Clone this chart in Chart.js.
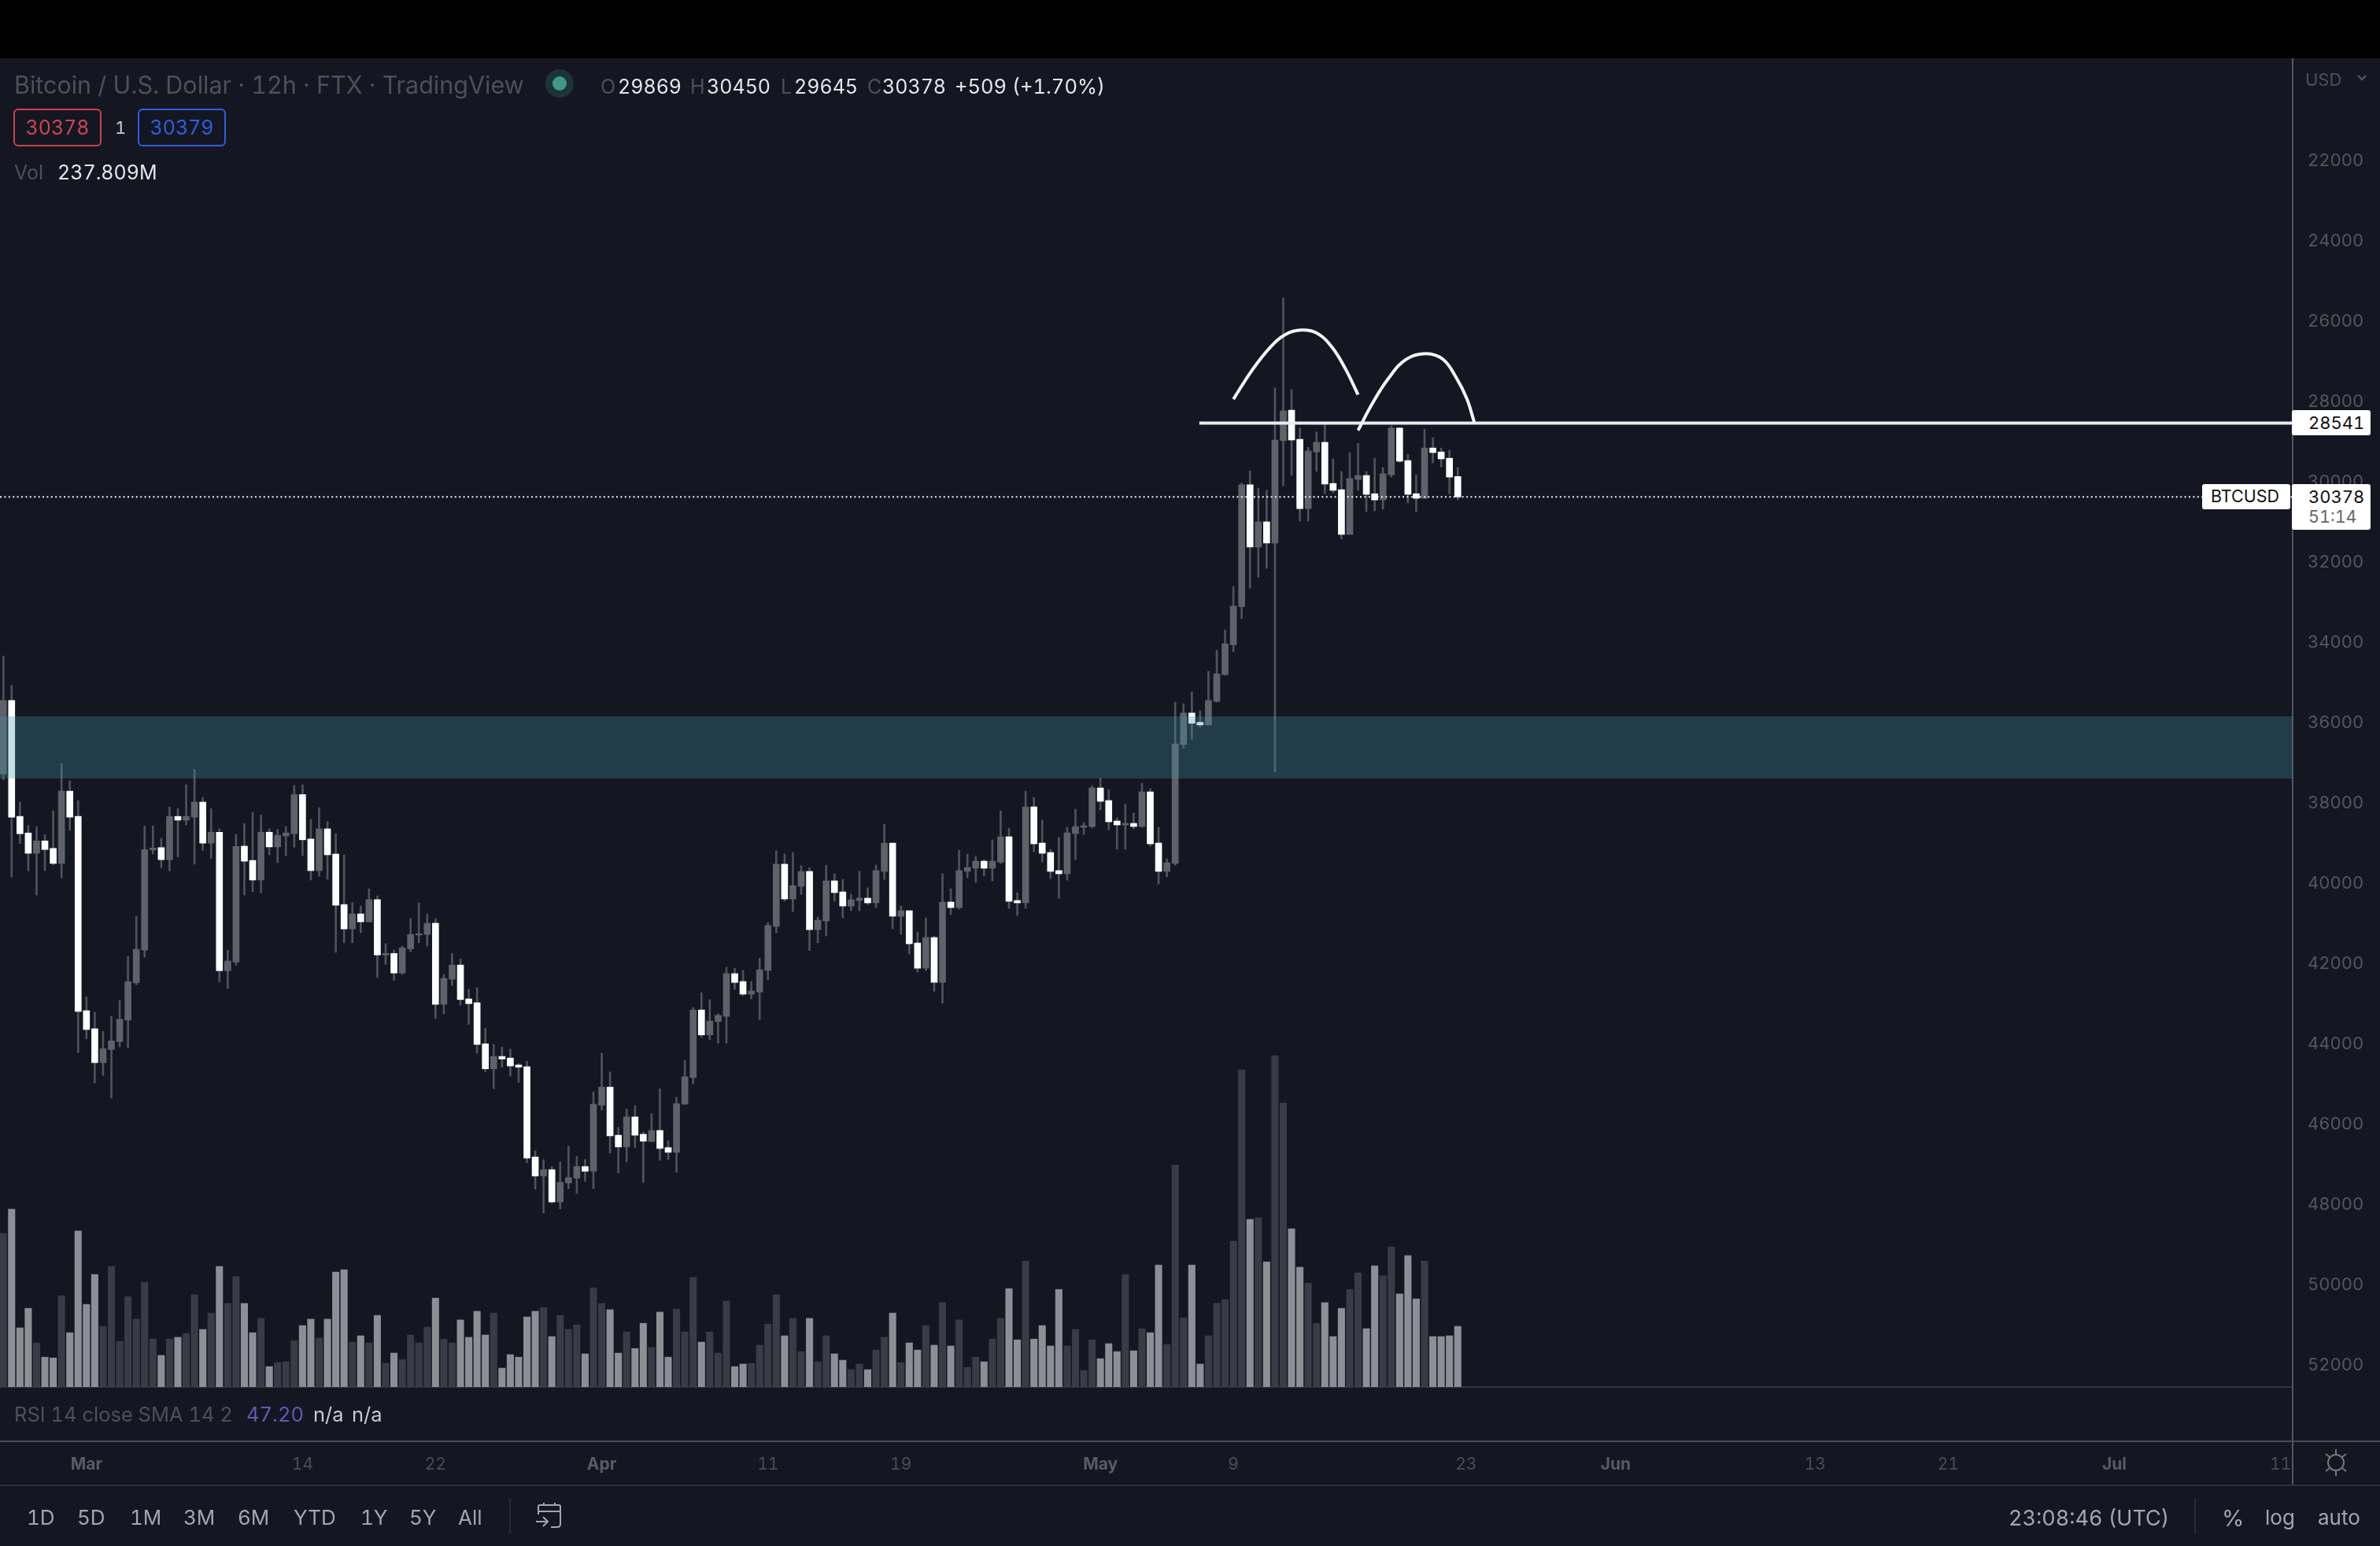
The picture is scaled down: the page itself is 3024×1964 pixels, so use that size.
<!DOCTYPE html>
<html>
<head>
<meta charset="utf-8">
<title>BTCUSD</title>
<script src="https://cdn.jsdelivr.net/npm/chart.js@4/dist/chart.umd.js"></script>
<style>
  html, body { margin: 0; padding: 0; background: #141722; overflow: hidden; }
  #page { position: relative; width: 3024px; height: 1964px; font-family: Inter, sans-serif; font-feature-settings: "tnum"; }
  #chart { position: absolute; left: 0; top: 0; }
  .t { position: absolute; white-space: nowrap; line-height: 1; transform: translateY(-50%); }
  .bar { position: absolute; }
  .dim { color: #4f5056; }
  .tool { color: #a4a5ad; font-size: 26px; }
  .tag { position: absolute; background: #fff; border-radius: 3px; }
  .box { position: absolute; top: 138px; height: 44px; width: 108px; border-radius: 6px; border: 2px solid; text-align: center; font-size: 25px; line-height: 44px; }
</style>
</head>
<body>
<div id="page">
  <canvas id="chart" width="3024" height="1964"></canvas>

  <!-- cabecalho -->
  <div class="bar" style="left:0;top:0;width:3024px;height:74px;background:#000"></div>
  <span class="t dim" style="left:18px;top:108px;font-size:30.5px">Bitcoin / U.S. Dollar · 12h · FTX · TradingView</span>
  <div class="bar" style="left:693px;top:88px;width:36px;height:36px;border-radius:50%;background:#1c3338"></div>
  <div class="bar" style="left:702px;top:97px;width:18px;height:18px;border-radius:50%;background:#3f9a84"></div>
  <span class="t dim" style="left:763px;top:110px;font-size:25px">O</span>
  <span class="t" style="left:785px;top:110px;font-size:25px;color:#e6e6e8">29869</span>
  <span class="t dim" style="left:877px;top:110px;font-size:25px">H</span>
  <span class="t" style="left:898px;top:110px;font-size:25px;color:#e6e6e8">30450</span>
  <span class="t dim" style="left:992px;top:110px;font-size:25px">L</span>
  <span class="t" style="left:1009px;top:110px;font-size:25px;color:#e6e6e8">29645</span>
  <span class="t dim" style="left:1102px;top:110px;font-size:25px">C</span>
  <span class="t" style="left:1121px;top:110px;font-size:25px;color:#e6e6e8">30378</span>
  <span class="t" style="left:1213px;top:110px;font-size:25.5px;color:#e6e6e8">+509 (+1.70%)</span>
  <div class="box" style="left:17px;color:#cf4452;border-color:#c8434f">30378</div>
  <span class="t" style="left:146px;top:162px;font-size:22px;color:#c9c9cc">1</span>
  <div class="box" style="left:175px;color:#2f5fe0;border-color:#2f5fe0">30379</div>
  <span class="t dim" style="left:18px;top:219px;font-size:25px">Vol</span>
  <span class="t" style="left:73px;top:219px;font-size:25px;color:#e6e6e8">237.809M</span>

  <span class="t dim" style="left:2929px;top:101px;font-size:22px">USD</span>
  <svg class="bar" style="left:2994px;top:94px" width="14" height="9" viewBox="0 0 14 9"><path d="M2 2 L7 7 L12 2" fill="none" stroke="#55565c" stroke-width="2.4"/></svg>

  <!-- etiquetas do eixo de preco -->
  <div class="tag" style="left:2912px;top:521px;width:100px;height:32px"></div>
  <span class="t" style="left:2933px;top:537px;font-size:22px;color:#111">28541</span>
  <div class="tag" style="left:2798px;top:615px;width:112px;height:32px"></div>
  <span class="t" style="left:2809px;top:631px;font-size:21.5px;color:#111">BTCUSD</span>
  <div class="tag" style="left:2912px;top:615px;width:100px;height:58px"></div>
  <span class="t" style="left:2933px;top:631px;font-size:22px;color:#111">30378</span>
  <span class="t" style="left:2933px;top:657px;font-size:21.5px;color:#666">51:14</span>

  <!-- linhas do painel -->
  <div class="bar" style="left:2912px;top:1762px;width:2px;height:125px;background:#55565c"></div>
  <div class="bar" style="left:0;top:1830px;width:3024px;height:2px;background:#4b4c53"></div>
  <div class="bar" style="left:0;top:1886px;width:3024px;height:2px;background:#2f3038"></div>

  <span class="t dim" style="left:18px;top:1797px;font-size:25.5px">RSI 14 close SMA 14 2</span>
  <span class="t" style="left:313px;top:1797px;font-size:25.5px;color:#6a55b5">47.20</span>
  <span class="t" style="left:398px;top:1797px;font-size:25.5px;color:#c9c9cc">n/a</span>
  <span class="t" style="left:447px;top:1797px;font-size:25.5px;color:#c9c9cc">n/a</span>

  <svg class="bar" style="left:2950px;top:1840px" width="36" height="36" viewBox="0 0 36 36">
    <g fill="none" stroke="#75767d" stroke-width="2"><circle cx="18" cy="18" r="10"/><path d="M18 1V7M18 29V35M5 7L10 11M31 7L26 11M5 29L10 25M31 29L26 25"/></g>
  </svg>

  <!-- barra inferior -->
  <span class="t tool" style="left:34px;top:1928px">1D</span>
  <span class="t tool" style="left:98px;top:1928px">5D</span>
  <span class="t tool" style="left:165px;top:1928px">1M</span>
  <span class="t tool" style="left:233px;top:1928px">3M</span>
  <span class="t tool" style="left:302px;top:1928px">6M</span>
  <span class="t tool" style="left:373px;top:1928px">YTD</span>
  <span class="t tool" style="left:458px;top:1928px">1Y</span>
  <span class="t tool" style="left:520px;top:1928px">5Y</span>
  <span class="t tool" style="left:582px;top:1928px">All</span>
  <div class="bar" style="left:647px;top:1904px;width:2px;height:44px;background:#2a2c33"></div>
  <svg class="bar" style="left:680px;top:1908px" width="36" height="34" viewBox="0 0 36 34">
    <g fill="none" stroke="#a4a5ad" stroke-width="2"><path d="M4 16V6Q4 4 6 4H30Q32 4 32 6V28Q32 32 28 32H20M4 12H32M11 1V5M25 1V5M1 25H15M10 19L16 25L10 31"/></g>
  </svg>
  <span class="t tool" style="left:2552px;top:1928px;font-size:27px">23:08:46 (UTC)</span>
  <div class="bar" style="left:2788px;top:1904px;width:2px;height:44px;background:#2a2c33"></div>
  <span class="t tool" style="left:2823px;top:1928px;font-size:29px">%</span>
  <span class="t tool" style="left:2878px;top:1928px">log</span>
  <span class="t tool" style="left:2945px;top:1928px">auto</span>
</div>

<script>
// Dados (12h, BTCUSD, eixo invertido)
const candleOpen = [
  37276, 35447, 38336, 38749, 39255, 38946, 39133, 39508, 37708, 38336,
  43176, 43626, 44470, 44142, 43945, 43410, 42482, 41666, 39171, 39114,
  39414, 38336, 38430, 38355, 37980, 39002, 38730, 42181, 41966, 39077,
  39433, 39921, 38730, 39096, 38824, 38768, 37792, 38899, 39687, 38646,
  39274, 40531, 41140, 40765, 40962, 40409, 41788, 41750, 42238, 41637,
  41291, 41275, 40999, 43016, 42394, 42039, 42882, 42977, 44001, 44623,
  44316, 44355, 44528, 44568, 46821, 47294, 47136, 47940, 47467, 47349,
  47057, 47176, 45529, 45080, 46277, 46569, 45821, 46254, 46435, 46159,
  46585, 46703, 45506, 44844, 43158, 43780, 43449, 43315, 42252, 42449,
  42764, 42709, 42173, 41078, 39526, 40393, 40078, 39706, 41157, 40941,
  39941, 40216, 40569, 40431, 40373, 40490, 39706, 39000, 40823, 40686,
  41490, 42118, 41353, 42470, 40470, 40608, 39706, 39627, 39451, 39627,
  39477, 38843, 40431, 40490, 38098, 39000, 39235, 39686, 39765, 38765,
  38608, 38588, 37627, 37941, 38451, 38549, 38510, 38588, 37725, 39000,
  39706, 39510, 36545, 35761, 35992, 36058, 35472, 34804, 34061, 33112,
  30075, 31626, 30999, 31527, 28977, 28218, 28944, 30669, 29258, 29018,
  30042, 30198, 31313, 29943, 29844, 30298, 30454, 29827, 28663, 29472,
  30298, 30413, 29159, 29258, 29414, 29869
];
const candleClose = [
  35447, 38355, 38768, 39255, 38946, 39161, 39508, 37708, 38355, 43194,
  43645, 44470, 44123, 43926, 43392, 42454, 41647, 39161, 39124, 39414,
  38336, 38430, 38336, 37980, 39002, 38730, 42181, 41938, 39086, 39452,
  39921, 38730, 39096, 38805, 38749, 37792, 38918, 39687, 38646, 39293,
  40549, 41140, 40765, 40962, 40409, 41788, 41750, 42238, 41609, 41275,
  41259, 40999, 43016, 42370, 42039, 42898, 43000, 44017, 44623, 44316,
  44379, 44552, 44584, 46845, 47294, 47136, 47940, 47451, 47333, 47057,
  47176, 45506, 45080, 46293, 46569, 45821, 46277, 46427, 46159, 46608,
  46703, 45490, 44820, 43158, 43780, 43434, 43292, 42252, 42473, 42764,
  42685, 42157, 41054, 39526, 40393, 40062, 39707, 41157, 40922, 39941,
  40235, 40569, 40412, 40373, 40490, 39686, 39000, 40823, 40686, 41510,
  42118, 41353, 42470, 40470, 40608, 39686, 39608, 39451, 39627, 39451,
  38843, 40451, 40490, 38098, 39020, 39255, 39706, 39765, 38745, 38588,
  38569, 37627, 37961, 38471, 38549, 38510, 38588, 37725, 39020, 39706,
  39490, 36529, 35761, 36017, 36058, 35447, 34787, 34036, 33095, 30075,
  31626, 30999, 31527, 28961, 28234, 28961, 30669, 29233, 29018, 30058,
  30215, 31313, 29918, 29844, 30314, 30454, 29802, 28663, 29489, 30314,
  30413, 29159, 29274, 29431, 29885, 30378
];
const candleHigh = [
  37426, 39846, 39011, 39696, 40296, 39687, 39546, 39865, 38683, 44217,
  43879, 44976, 44789, 45351, 44076, 44095, 42528, 41844, 39274, 39612,
  39696, 39349, 38552, 39527, 39180, 39377, 42454, 42622, 42041, 40296,
  40212, 40240, 39293, 39490, 39312, 39105, 39312, 39921, 39827, 39902,
  41722, 41488, 41488, 41234, 40962, 42350, 42022, 42416, 42275, 41708,
  41488, 41567, 43371, 43252, 42551, 43040, 43512, 44237, 44694, 45119,
  44584, 44804, 44962, 46963, 47625, 48216, 47979, 48113, 47609, 47727,
  47428, 47609, 45647, 46726, 47215, 46939, 46585, 47451, 46435, 46900,
  46884, 47199, 45506, 45001, 43843, 43898, 43985, 43985, 42646, 42803,
  42882, 43402, 42409, 41236, 40448, 40708, 40274, 41680, 41484, 41314,
  40451, 40863, 40686, 40686, 40529, 40608, 39908, 41137, 41268, 41765,
  42216, 42176, 42693, 42987, 40784, 40647, 39863, 39980, 39823, 39941,
  39510, 40627, 40804, 40627, 39216, 39471, 39882, 40373, 39922, 39412,
  38784, 38627, 38176, 38667, 39157, 39157, 38647, 38608, 39078, 40020,
  39843, 39549, 36636, 36413, 36116, 36058, 35489, 34820, 34234, 33409,
  32650, 32377, 32154, 37230, 30100, 29844, 30982, 30982, 29745, 30298,
  30273, 31428, 31313, 30215, 30743, 30727, 30685, 29885, 29514, 30529,
  30743, 30413, 29530, 29629, 30298, 30450
];
const candleLow = [
  34341, 35072, 37980, 38561, 38589, 38796, 38195, 37014, 37454, 37942,
  42828, 43213, 43691, 43316, 42922, 41825, 40822, 38571, 38571, 38880,
  38102, 38139, 37548, 37164, 37867, 38139, 38646, 41666, 38786, 38514,
  38233, 38299, 38646, 38664, 38589, 37567, 37548, 38411, 38120, 38467,
  38768, 39293, 40484, 40568, 40137, 40315, 41506, 41666, 41562, 40881,
  40487, 40763, 40881, 42275, 41748, 41882, 42646, 42606, 43607, 44017,
  44080, 44135, 44489, 44434, 46664, 46884, 47057, 46939, 46545, 46805,
  46884, 45198, 44237, 44702, 46081, 45624, 45545, 46199, 45742, 45119,
  46411, 45332, 44410, 43095, 42725, 42900, 43252, 42094, 42118, 42173,
  42449, 41866, 40983, 39195, 39274, 39235, 39565, 39608, 40843, 39549,
  39765, 39902, 40274, 39700, 40118, 39549, 38529, 39000, 40568, 40673,
  41216, 40863, 41320, 39765, 40137, 39176, 39274, 39333, 39412, 38922,
  38196, 38627, 40235, 37706, 37863, 38431, 39157, 38863, 38608, 38157,
  38490, 37569, 37386, 37667, 38373, 38039, 38255, 37510, 37647, 38608,
  39392, 35489, 35530, 35233, 35703, 34721, 34193, 33689, 32608, 30033,
  29728, 30157, 30207, 27665, 25420, 27706, 28663, 29142, 28763, 28548,
  29431, 29745, 29274, 29043, 29745, 29414, 29646, 28606, 28647, 29315,
  29827, 28688, 28903, 29159, 29217, 29645
];
// volume em milhoes
const volumes = [
  603, 698, 232, 309, 173, 117, 114, 358, 213, 612,
  324, 442, 238, 473, 179, 355, 266, 411, 188, 124,
  188, 195, 210, 362, 226, 290, 473, 328, 433, 328,
  213, 269, 80, 96, 99, 182, 241, 266, 192, 266,
  451, 460, 176, 201, 173, 281, 93, 133, 108, 204,
  173, 235, 349, 188, 173, 263, 195, 297, 204, 290,
  74, 127, 117, 275, 297, 312, 198, 281, 226, 244,
  130, 389, 328, 303, 133, 216, 151, 250, 155, 294,
  117, 306, 216, 430, 176, 216, 133, 337, 80, 90,
  93, 164, 247, 362, 201, 269, 139, 269, 99, 201,
  130, 105, 68, 90, 68, 145, 195, 290, 96, 173,
  145, 241, 164, 331, 161, 263, 77, 117, 99, 188,
  269, 386, 185, 494, 188, 241, 161, 383, 161, 226,
  65, 185, 111, 170, 139, 442, 142, 229, 213, 479,
  167, 871, 272, 479, 90, 201, 328, 343, 572, 1245,
  658, 664, 491, 1301, 1115, 621, 470, 408, 250, 331,
  198, 309, 383, 448, 229, 476, 436, 550, 365, 516,
  346, 494, 198, 198, 201, 238
];

const priceTicks = [22000, 24000, 26000, 28000, 30000, 32000, 34000, 36000, 38000, 40000, 42000, 44000, 46000, 48000, 50000, 52000];
const dateTickIndex = [10, 36, 52, 72, 92, 108, 132, 148, 176, 194, 218, 234, 254, 274];
const dateTickLabels = ['Mar', '14', '22', 'Apr', '11', '19', 'May', '9', '23', 'Jun', '13', '21', 'Jul', '11'];
const monthLabels = ['Mar', 'Apr', 'May', 'Jun', 'Jul'];

// zona marcada, linha horizontal e ultimo preco
const zoneTop = 35843;
const zoneBottom = 37392;
const levelPrice = 28541;
const levelStart = 143.9;
const lastPrice = 30378;

// os dois arcos desenhados a mao
const arcOneX = [148.0, 150.2, 152.4, 154.3, 156.2, 158.1, 159.9, 161.5, 163.0];
const arcOneY = [27945, 27236, 26658, 26328, 26221, 26303, 26658, 27194, 27830];
const arcTwoX = [163.0, 164.7, 166.6, 168.8, 171.2, 173.2, 174.8, 176.1, 177.0];
const arcTwoY = [28721, 28061, 27442, 26947, 26807, 26947, 27401, 27937, 28531];

const xMin = -0.4;
const xMax = 275.45;

const isUp = i => candleClose[i] >= candleOpen[i];
const flatLine = (price, from, color, width, dash, order) => ({
  type: 'line',
  data: [{ x: from, y: price }, { x: xMax, y: price }],
  yAxisID: 'y',
  borderColor: color,
  borderWidth: width,
  borderDash: dash,
  pointRadius: 0,
  order
});
const arcLine = (xs, ys) => ({
  type: 'line',
  data: xs.map((x, i) => ({ x, y: ys[i] })),
  yAxisID: 'y',
  borderColor: '#f4f4f4',
  borderWidth: 4,
  tension: 0.4,
  borderCapStyle: 'butt',
  pointRadius: 0,
  order: 0
});

Chart.defaults.font.family = 'Inter, sans-serif';

new Chart(document.getElementById('chart'), {
  data: {
    datasets: [
      {
        type: 'bar',
        data: volumes.map((v, i) => ({ x: i, y: v })),
        yAxisID: 'yVol',
        grouped: false,
        barThickness: 8.4,
        backgroundColor: volumes.map((v, i) => isUp(i) ? '#8e8f96' : '#393b47'),
        order: 6
      },
      {
        type: 'bar',
        data: candleHigh.map((h, i) => ({ x: i, y: [candleLow[i], h] })),
        yAxisID: 'y',
        grouped: false,
        barThickness: 2,
        backgroundColor: '#50525c',
        order: 5
      },
      {
        type: 'bar',
        data: candleOpen.map((o, i) => ({ x: i, y: [o, candleClose[i]] })),
        yAxisID: 'y',
        grouped: false,
        barThickness: 8,
        backgroundColor: candleOpen.map((o, i) => isUp(i) ? '#ffffff' : '#5f616b'),
        order: 4
      },
      {
        type: 'line',
        data: [{ x: xMin, y: zoneTop }, { x: xMax, y: zoneTop }],
        yAxisID: 'y',
        borderWidth: 0,
        pointRadius: 0,
        fill: { value: zoneBottom },
        backgroundColor: 'rgba(70, 148, 165, 0.30)',
        order: 3
      },
      flatLine(lastPrice, xMin, '#f0f0f2', 2, [2, 3.4], 2),
      flatLine(levelPrice, levelStart, '#e9eaec', 4, [], 1),
      arcLine(arcOneX, arcOneY),
      arcLine(arcTwoX, arcTwoY)
    ]
  },
  options: {
    responsive: false,
    animation: false,
    devicePixelRatio: 1,
    layout: { padding: { top: 74 } },
    plugins: { legend: { display: false }, tooltip: { enabled: false } },
    scales: {
      x: {
        type: 'linear',
        position: 'bottom',
        offset: false,
        min: xMin,
        max: xMax,
        grid: { display: false, drawTicks: false, offset: false },
        border: { display: true, color: '#33343c', width: 2 },
        afterBuildTicks: axis => { axis.ticks = dateTickIndex.map(v => ({ value: v })); },
        afterFit: axis => { axis.height = 202; },
        ticks: {
          autoSkip: false,
          maxRotation: 0,
          padding: 86,
          callback: (value, index) => dateTickLabels[index],
          color: ctx => monthLabels.includes(dateTickLabels[ctx.index]) ? '#5a5b60' : '#4c4d53',
          font: ctx => ({ size: 21, weight: monthLabels.includes(dateTickLabels[ctx.index]) ? 'bold' : 'normal' })
        }
      },
      y: {
        type: 'linear',
        position: 'right',
        reverse: true,
        min: 19451,
        max: 52549,
        grid: { display: false, drawTicks: false },
        border: { display: true, color: '#55565c', width: 2 },
        afterBuildTicks: axis => { axis.ticks = priceTicks.map(v => ({ value: v })); },
        afterFit: axis => { axis.width = 111; },
        ticks: {
          padding: 19,
          callback: value => String(value),
          color: '#55565c',
          font: { size: 22 }
        }
      },
      yVol: {
        type: 'linear',
        display: false,
        min: 0,
        max: 5216
      }
    }
  }
});
</script>
</body>
</html>
